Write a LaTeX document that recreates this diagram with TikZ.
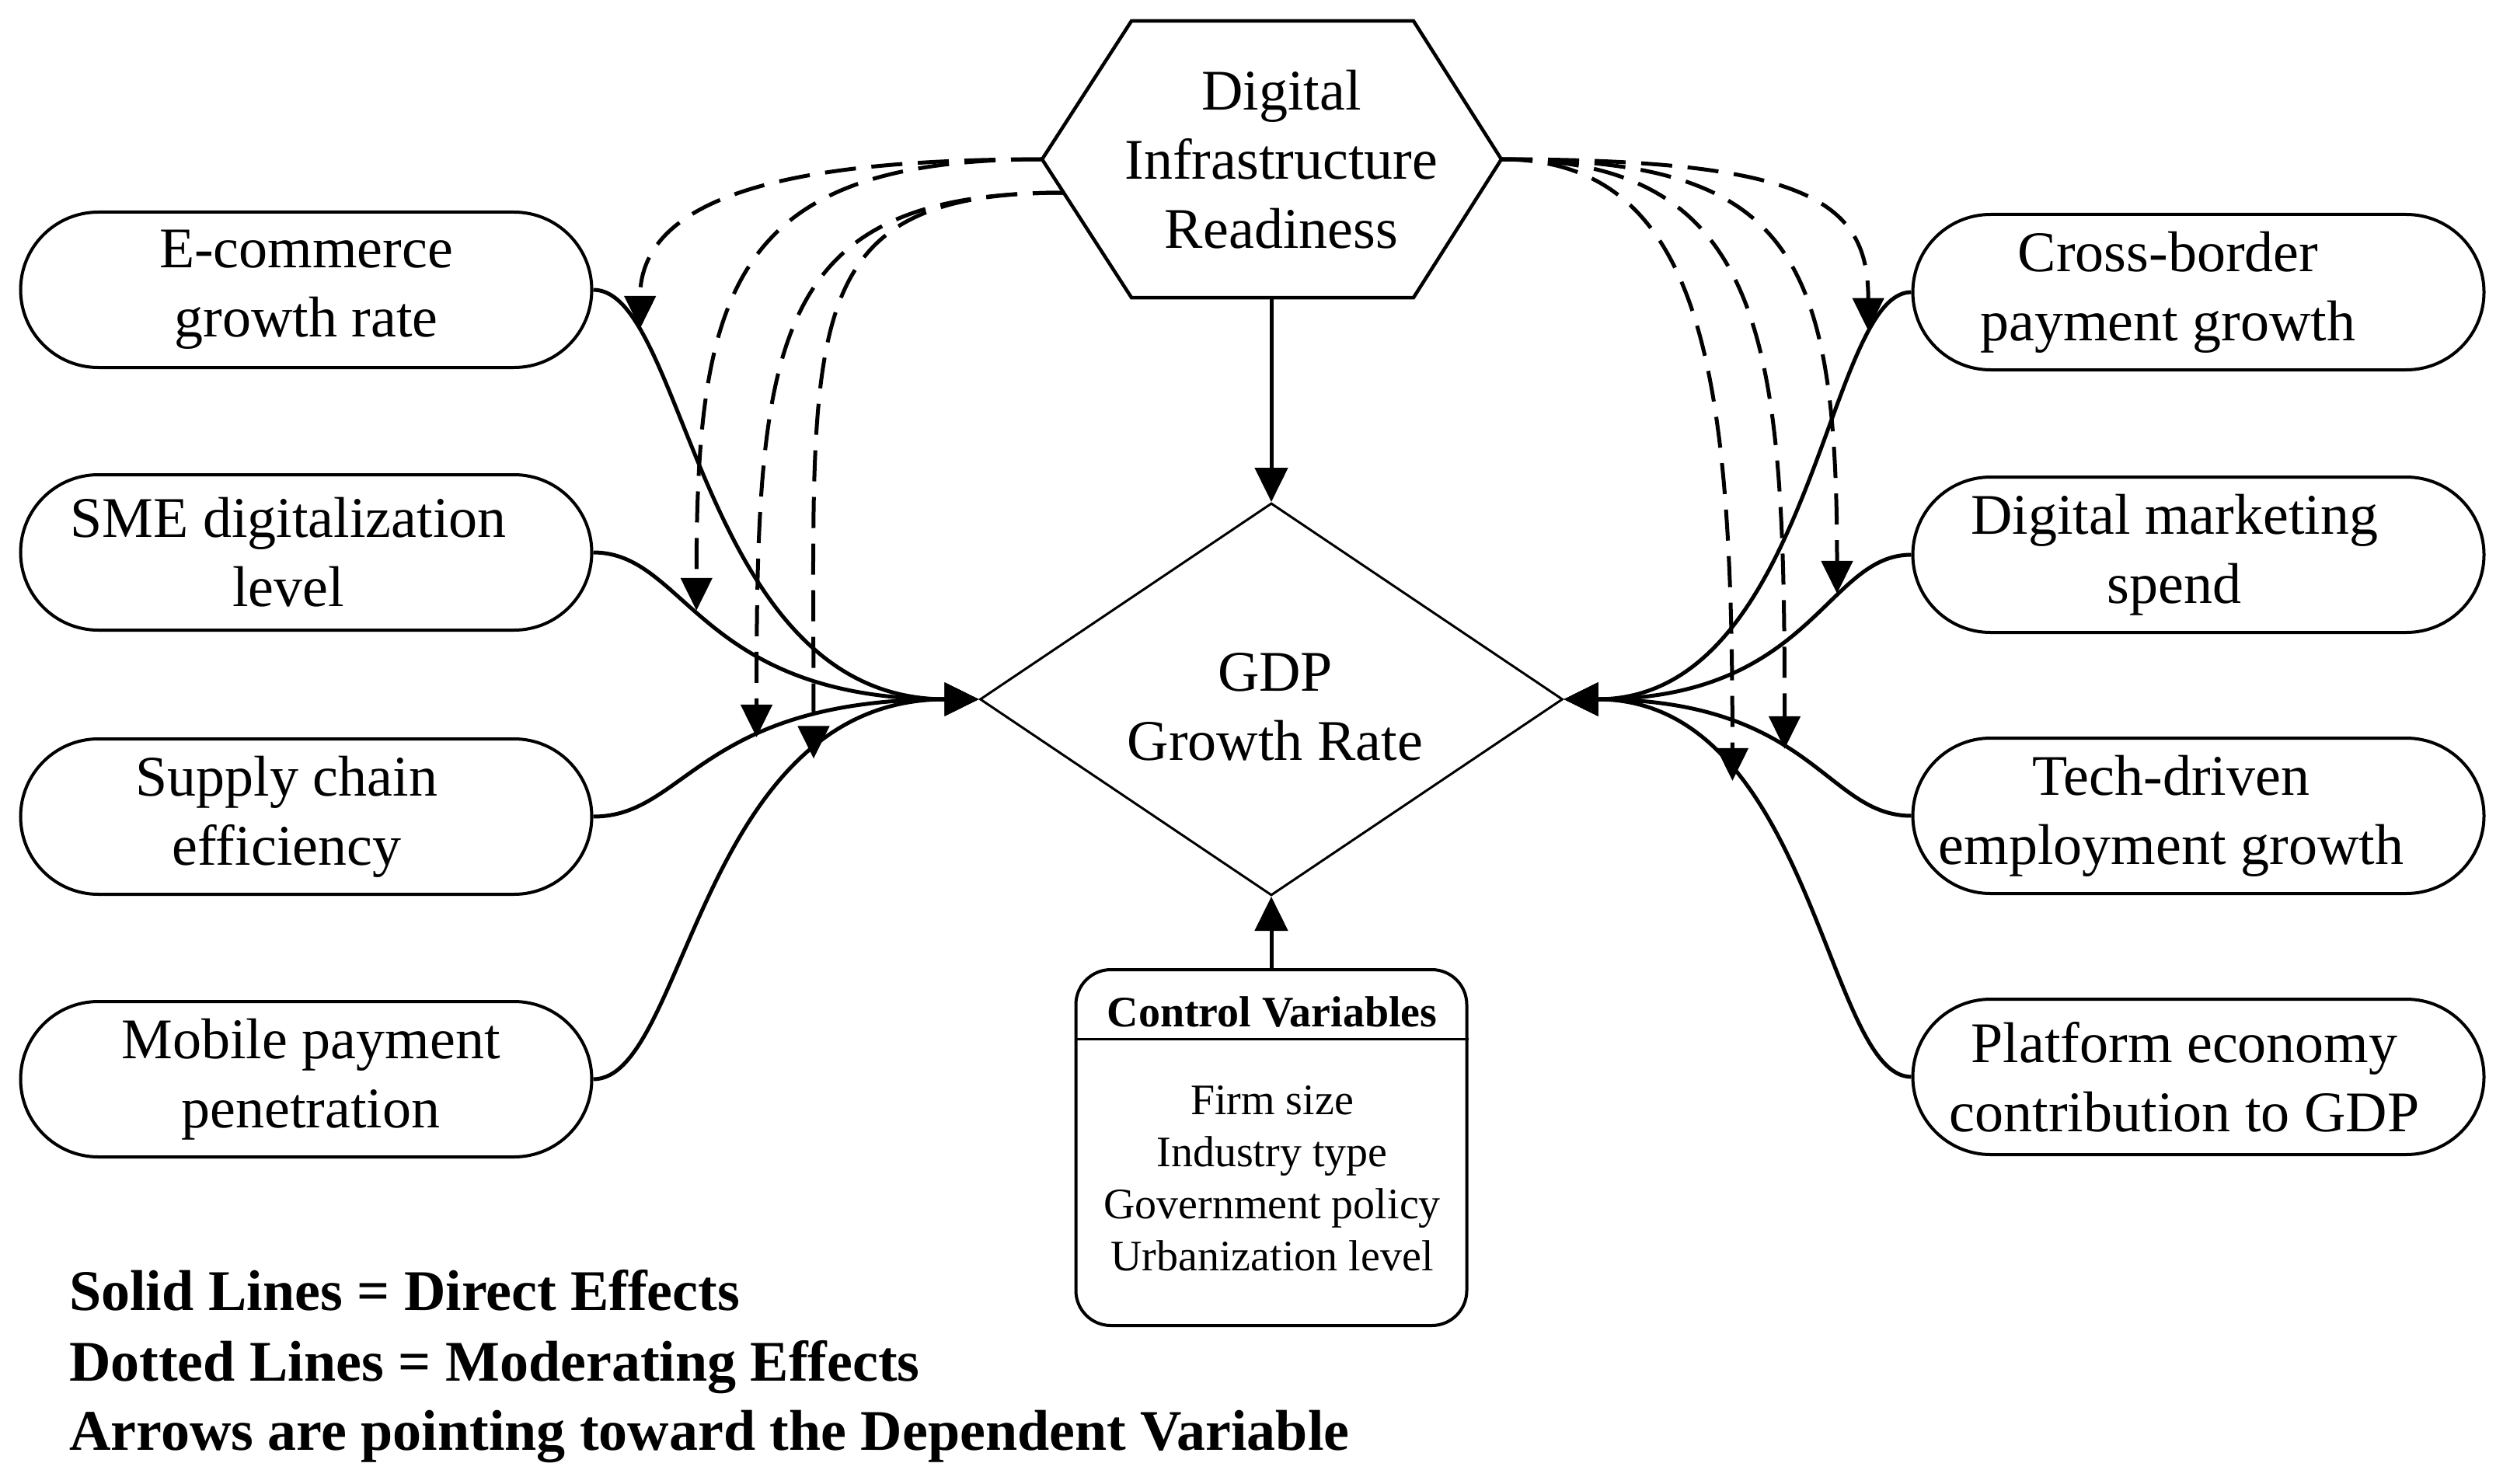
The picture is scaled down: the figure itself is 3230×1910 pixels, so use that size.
\documentclass[tikz,border=0pt]{standalone}
\usepackage{fontspec}
\setmainfont{Liberation Serif}
\usetikzlibrary{arrows.meta,shapes.geometric}
\begin{document}
\begin{tikzpicture}[x=1pt,y=-1pt,
  every node/.style={font=\fontsize{74}{89}\selectfont, inner sep=0pt},
  var/.style={draw, line width=4pt, rectangle, rounded corners=100pt,
    minimum width=735pt, minimum height=200pt, align=center},
  hexline/.style={line width=4.5pt, line join=miter},
  direct/.style={line width=5pt, -{Triangle[length=44pt,width=42pt]}},
  moder/.style={line width=5pt, dash pattern=on 40pt off 20pt,
    -{Triangle[length=42pt,width=40pt]}},
  smalltext/.style={font=\fontsize{56}{67}\selectfont, align=center},
  legend/.style={anchor=base west, font=\fontsize{74}{89}\selectfont\bfseries}
]
\useasboundingbox (0,0) rectangle (3230,1910);

% hexagon (moderator)
\coordinate (Hw) at (1341,205);
\coordinate (He) at (1932,205);
\coordinate (Hs) at (1369,248);
\coordinate (Hb) at (1636,383);
\draw[hexline] (1456,27) -- (1819,27) -- (He) -- (1819,383) -- (Hb) -- (1456,383) -- (Hw) -- cycle;
\node[align=center] (H) at (1649,205) {Digital\\Infrastructure\\Readiness};

% dependent variable
\node[diamond, draw, line width=3pt, minimum width=750pt, minimum height=505pt,
  aspect=1.485] (G) at (1636,900) {};
\node[align=center] (Gt) at (1641,910) {GDP\\Growth Rate};

% left independent variables
\node[var] (L1) at (394,373) {E-commerce\\growth rate};
\node[var] (L2) at (394,711) {SME digitalization\hspace*{46pt}\\level\hspace*{46pt}};
\node[var] (L3) at (394,1051) {Supply chain\hspace*{50pt}\\efficiency\hspace*{50pt}};
\node[var] (L4) at (394,1389) {\hspace*{12pt}Mobile payment\\\hspace*{12pt}penetration};

% right independent variables
\node[var] (R1) at (2829,376) {Cross-border\hspace*{78pt}\\payment growth\hspace*{78pt}};
\node[var] (R2) at (2829,714) {Digital marketing\hspace*{62pt}\\spend\hspace*{62pt}};
\node[var] (R3) at (2829,1050) {Tech-driven\hspace*{70pt}\\employment growth\hspace*{70pt}};
\node[var] (R4) at (2829,1386) {Platform economy\hspace*{36pt}\\contribution to GDP\hspace*{36pt}};

% control variables
\node[draw, line width=4pt, rounded corners=45pt, minimum width=503pt,
  minimum height=458pt] (C) at (1636,1477) {};
\draw[line width=3pt] ([yshift=-91pt]C.north west) -- ([yshift=-91pt]C.north east);
\node[smalltext, font=\fontsize{56}{67}\selectfont\bfseries] (Ch) at (1637,1302) {Control Variables};
\node[smalltext] (Cb) at (1637,1517) {Firm size\\Industry type\\Government policy\\Urbanization level};

% direct effects (left)
\draw[direct] (L1.east) .. controls +(120,0) and +(-360,0) .. (G.west) coordinate[pos=0.19] (m1);
\draw[direct] (L2.east) .. controls +(120,0) and +(-360,0) .. (G.west) coordinate[pos=0.43] (m2);
\draw[direct] (L3.east) .. controls +(120,0) and +(-360,0) .. (G.west) coordinate[pos=0.62] (m3);
\draw[direct] (L4.east) .. controls +(120,0) and +(-360,0) .. (G.west) coordinate[pos=0.75] (m4);

% direct effects (right)
\draw[direct] (R1.west) .. controls +(-110,0) and +(320,0) .. (G.east) coordinate[pos=0.19] (n1);
\draw[direct] (R2.west) .. controls +(-110,0) and +(320,0) .. (G.east) coordinate[pos=0.34] (n2);
\draw[direct] (R3.west) .. controls +(-110,0) and +(320,0) .. (G.east) coordinate[pos=0.55] (n3);
\draw[direct] (R4.west) .. controls +(-110,0) and +(320,0) .. (G.east) coordinate[pos=0.70] (n4);

% vertical effects
\draw[direct] (Hb) -- (G.north);
\draw[direct] (C.north) -- (G.south);

% moderating effects (left)
\draw[moder] (Hw) .. controls +(-300,0) and +(0,-178) .. (m1);
\draw[moder] (Hw) .. controls +(-400,0) and +(0,-413) .. (m2);
\draw[moder] (Hs) .. controls +(-380,0) and +(0,-509) .. (m3);
\draw[moder] (Hs) .. controls +(-350,0) and +(0,-558) .. (m4);

% moderating effects (right)
\draw[moder] (He) .. controls +(398,0) and +(0,-165) .. (n1);
\draw[moder] (He) .. controls +(368,0) and +(0,-446) .. (n2);
\draw[moder] (He) .. controls +(348,0) and +(0,-514) .. (n3);
\draw[moder] (He) .. controls +(268,0) and +(0,-505) .. (n4);

% legend
\node[legend] (k1) at (89,1686) {Solid Lines = Direct Effects};
\node[legend] (k2) at (89,1777) {Dotted Lines = Moderating Effects};
\node[legend] (k3) at (89,1866) {Arrows are pointing toward the Dependent Variable};
\end{tikzpicture}
\end{document}
